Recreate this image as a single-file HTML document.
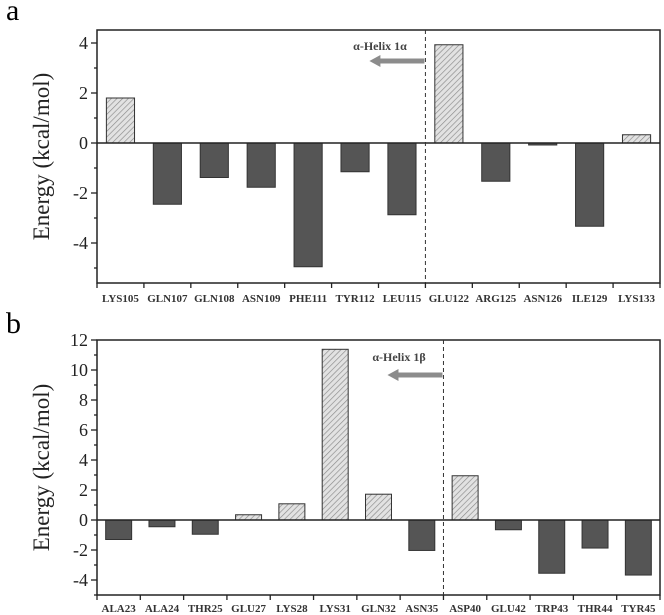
<!DOCTYPE html>
<html><head><meta charset="utf-8"><style>
html,body{margin:0;padding:0;background:#fff;}
svg{display:block;font-family:"Liberation Serif",serif;}
</style></head><body>
<svg id="s" width="664" height="615" viewBox="0 0 664 615">
<defs>
<pattern id="hatch" width="4" height="4" patternUnits="userSpaceOnUse" patternTransform="rotate(45)">
<rect width="4" height="4" fill="#e2e2e2"/><line x1="0" y1="0" x2="0" y2="4" stroke="#8a8a8a" stroke-width="1.3"/>
</pattern>
</defs>
</svg>
<script>
const catsA = ["LYS105","GLN107","GLN108","ASN109","PHE111","TYR112","LEU115","GLU122","ARG125","ASN126","ILE129","LYS133"];
const valsA = [1.8,-2.45,-1.38,-1.77,-4.95,-1.15,-2.87,3.93,-1.53,-0.08,-3.33,0.33];
const ticksA = [-4,-2,0,2,4];
const catsB = ["ALA23","ALA24","THR25","GLU27","LYS28","LYS31","GLN32","ASN35","ASP40","GLU42","TRP43","THR44","TYR45"];
const valsB = [-1.3,-0.45,-0.95,0.35,1.08,11.38,1.72,-2.03,2.95,-0.65,-3.55,-1.87,-3.67];
const ticksB = [-4,-2,0,2,4,6,8,10,12];

const svg = document.getElementById('s');
const NS = 'http://www.w3.org/2000/svg';
function mk(tag, attrs, parent){const e=document.createElementNS(NS,tag);for(const k in attrs)e.setAttribute(k,attrs[k]);(parent||svg).appendChild(e);return e;}

function panel(p){
  const g = mk('g',{});
  
  
  const y = v => p.top + (p.ymax - v)/(p.ymax - p.ymin)*(p.bottom - p.top);
  const bw = (p.right - p.left)/p.cats.length;
  const x = i => p.left + bw*i;
  const lt = mk('text',{x:6,y:p.letterY,'font-size':30},g); lt.textContent=p.letter;
  
  
  p.vals.forEach((v,i)=>{
    const y0=y(0), yv=y(v);
    const r = mk('rect',{x:x(i)+bw*0.2,y:Math.min(y0,yv),width:bw*0.6,height:Math.max(Math.abs(yv-y0),0.8),
      fill:v>=0?'url(#hatch)':'#555',stroke:'#333','stroke-width':1},g);
    
    
    const t = mk('text',{x:x(i)+bw/2,y:p.labelY,'text-anchor':'middle','font-size':11,'font-weight':'bold',fill:'#333'},g);
    t.textContent=p.cats[i];
    
    
  });
  mk('line',{x1:p.left,x2:p.right,y1:y(0),y2:y(0),stroke:'#222','stroke-width':1.5},g);
  const fr = mk('rect',{x:p.left,y:p.top,width:p.right-p.left,height:p.bottom-p.top,fill:'none',stroke:'#222','stroke-width':1.5},g);
  
  
  for(let i=0;i<=p.cats.length;i++) mk('line',{x1:x(i),x2:x(i),y1:p.bottom,y2:p.bottom+5,stroke:'#222','stroke-width':1.3},g);
  for(let v=Math.ceil(p.ymin); v<=p.ymax; v++){
    const major = p.ticks.includes(v);
    mk('line',{x1:p.left-(major?6:3),x2:p.left,y1:y(v),y2:y(v),stroke:'#222','stroke-width':1.3},g);
  }
  p.ticks.forEach(v=>{
    const t = mk('text',{x:p.left-9,y:y(v)+6,'text-anchor':'end','font-size':18,fill:'#222'},g);
    t.textContent=v;
    
    
  });
  const cy=(p.top+p.bottom)/2;
  const yt = mk('text',{x:0,y:0,'text-anchor':'middle','font-size':23,fill:'#222',transform:`translate(49,${cy}) rotate(-90)`},g);
  yt.textContent='Energy (kcal/mol)';
  
  
  const dx = x(p.split);
  const dl = mk('line',{x1:dx,x2:dx,y1:p.top,y2:p.bottom,stroke:'#333','stroke-width':1,'stroke-dasharray':'4,3'},g);
  
  
  const ar = mk('g',{},g);
  
  
  mk('line',{x1:dx-1,x2:dx-p.arrowLen+10,y1:p.arrowY,y2:p.arrowY,stroke:'#8c8c8c','stroke-width':5},ar);
  mk('polygon',{points:`${dx-p.arrowLen},${p.arrowY} ${dx-p.arrowLen+11},${p.arrowY-6} ${dx-p.arrowLen+11},${p.arrowY+6}`,fill:'#8c8c8c'},ar);
  const hl = mk('text',{x:p.helixX,y:p.helixY,'text-anchor':'middle','font-size':12,'font-weight':'bold',fill:'#444'},g);
  hl.textContent=p.helix;
  
  
}

panel({name:'chart-a',letter:'a',letterY:20,cats:catsA,vals:valsA,ticks:ticksA,ymin:-5.6,ymax:4.52,
  left:97,right:660,top:30,bottom:283,labelY:302,split:7,arrowY:61,arrowLen:56,helixX:380,helixY:50,helix:'α-Helix 1α'});
panel({name:'chart-b',letter:'b',letterY:333,cats:catsB,vals:valsB,ticks:ticksB,ymin:-5,ymax:12,
  left:97,right:660,top:340,bottom:595,labelY:612,split:8,arrowY:375,arrowLen:56,helixX:399,helixY:361,helix:'α-Helix 1β'});
</script>
</body></html>
